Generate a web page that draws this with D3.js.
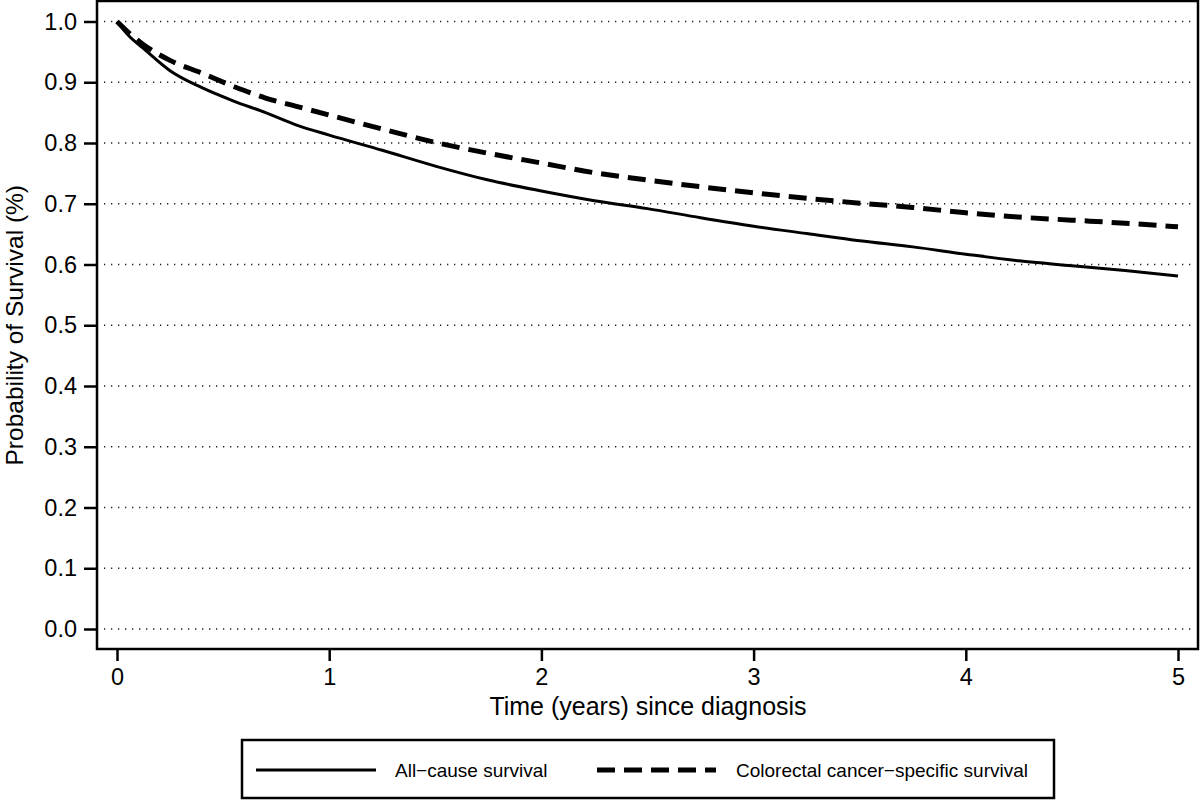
<!DOCTYPE html>
<html>
<head>
<meta charset="utf-8">
<script src="https://cdn.jsdelivr.net/npm/d3@7"></script>
<style>
  body { margin: 0; background: #fff; }
  svg { display: block; font-family: "Liberation Sans", Arial, Helvetica, sans-serif; }
</style>
</head>
<body>
<div id="chart"></div>
<script>
// time since diagnosis (years)
let years = [0, 0.06, 0.12, 0.25, 0.4, 0.55, 0.7, 0.85, 1.0, 1.25, 1.5, 1.75, 2.0, 2.25, 2.5, 2.75, 3.0, 3.25, 3.5, 3.75, 4.0, 4.25, 4.5, 4.75, 5.0];
let allCause = [1.0, 0.975, 0.957, 0.919, 0.891, 0.869, 0.850, 0.829, 0.813, 0.788, 0.762, 0.739, 0.721, 0.705, 0.692, 0.677, 0.663, 0.651, 0.639, 0.629, 0.617, 0.606, 0.598, 0.590, 0.581];
let cancerSpecific = [1.0, 0.980, 0.963, 0.936, 0.915, 0.893, 0.874, 0.860, 0.846, 0.823, 0.801, 0.783, 0.767, 0.751, 0.739, 0.728, 0.718, 0.709, 0.701, 0.694, 0.685, 0.678, 0.673, 0.668, 0.662];

let xTicks = [0, 1, 2, 3, 4, 5];
let yTicks = [0, 0.1, 0.2, 0.3, 0.4, 0.5, 0.6, 0.7, 0.8, 0.9, 1.0];
let seriesNames = ["All\u2212cause survival", "Colorectal cancer\u2212specific survival"];

let width = 1200, height = 801;
let frame = {left: 97, top: 1, right: 1198, bottom: 649};

let svg = d3.select("#chart")
            .append("svg")
            .attr("width", width)
            .attr("height", height);

let x = d3.scaleLinear()
          .domain([0, 5])
          .range([117, 1178]);
let y = d3.scaleLinear()
          .domain([0, 1])
          .range([629, 21.5]);

// dotted grid
svg.selectAll(".grid")
   .data(yTicks)
   .enter().append("line")
    .attr("class", "grid")
    .attr("x1", frame.left + 7)
    .attr("x2", frame.right - 3)
    .attr("y1", d => y(d))
    .attr("y2", d => y(d))
    .attr("stroke", "#222")
    .attr("stroke-width", 1.3)
    .attr("stroke-dasharray", "1.3,5.7");

// y axis
let yAxis = svg.append("g")
   .attr("transform", "translate(" + frame.left + ",0)")
   .call(d3.axisLeft(y).tickValues(yTicks).tickFormat(d3.format(".1f")).tickSize(13).tickPadding(7));

// x axis
let xAxis = svg.append("g")
   .attr("transform", "translate(0," + frame.bottom + ")")
   .call(d3.axisBottom(x).tickValues(xTicks).tickFormat(d3.format("d")).tickSize(12).tickPadding(7));

[yAxis, xAxis].forEach(function(g) {
  g.select(".domain").remove();
  g.selectAll(".tick line").attr("stroke", "#000").attr("stroke-width", 2.5);
  g.selectAll(".tick text").attr("fill", "#000").style("font-size", "23.5px");
});

// frame
svg.append("rect")
   .attr("x", frame.left)
   .attr("y", frame.top)
   .attr("width", frame.right - frame.left)
   .attr("height", frame.bottom - frame.top)
   .attr("fill", "none")
   .attr("stroke", "#000")
   .attr("stroke-width", 2.5);

// curves
let line = d3.line()
             .curve(d3.curveMonotoneX)
             .x(d => x(d[0]))
             .y(d => y(d[1]));

svg.append("path")
   .datum(years.map((t, i) => [t, allCause[i]]))
   .attr("d", line)
   .attr("fill", "none")
   .attr("stroke", "#000")
   .attr("stroke-width", 3);

svg.append("path")
   .datum(years.map((t, i) => [t, cancerSpecific[i]]))
   .attr("d", line)
   .attr("fill", "none")
   .attr("stroke", "#000")
   .attr("stroke-width", 5)
   .attr("stroke-dasharray", "18,9");

// axis titles
svg.append("text")
   .attr("text-anchor", "middle")
   .attr("x", 648)
   .attr("y", 715)
   .style("font-size", "25px")
   .text("Time (years) since diagnosis");

svg.append("text")
   .attr("text-anchor", "middle")
   .attr("transform", "translate(23," + (y(0) + y(1)) / 2 + ") rotate(-90)")
   .style("font-size", "24.5px")
   .text("Probability of Survival (%)");

// legend
let legend = svg.append("g");
legend.append("rect")
      .attr("x", 242)
      .attr("y", 740)
      .attr("width", 812)
      .attr("height", 58)
      .attr("fill", "#fff")
      .attr("stroke", "#000")
      .attr("stroke-width", 2.5);

let legendItems = [
  {name: seriesNames[0], x1: 256, x2: 376, tx: 395, width: 3, dash: null},
  {name: seriesNames[1], x1: 597, x2: 716, tx: 736, width: 5, dash: "18,9"}
];

legendItems.forEach(function(d) {
  legend.append("line")
        .attr("x1", d.x1)
        .attr("x2", d.x2)
        .attr("y1", 770)
        .attr("y2", 770)
        .attr("stroke", "#000")
        .attr("stroke-width", d.width)
        .attr("stroke-dasharray", d.dash);
  legend.append("text")
        .attr("x", d.tx)
        .attr("y", 777)
        .style("font-size", "19px")
        .text(d.name);
});
</script>
</body>
</html>
